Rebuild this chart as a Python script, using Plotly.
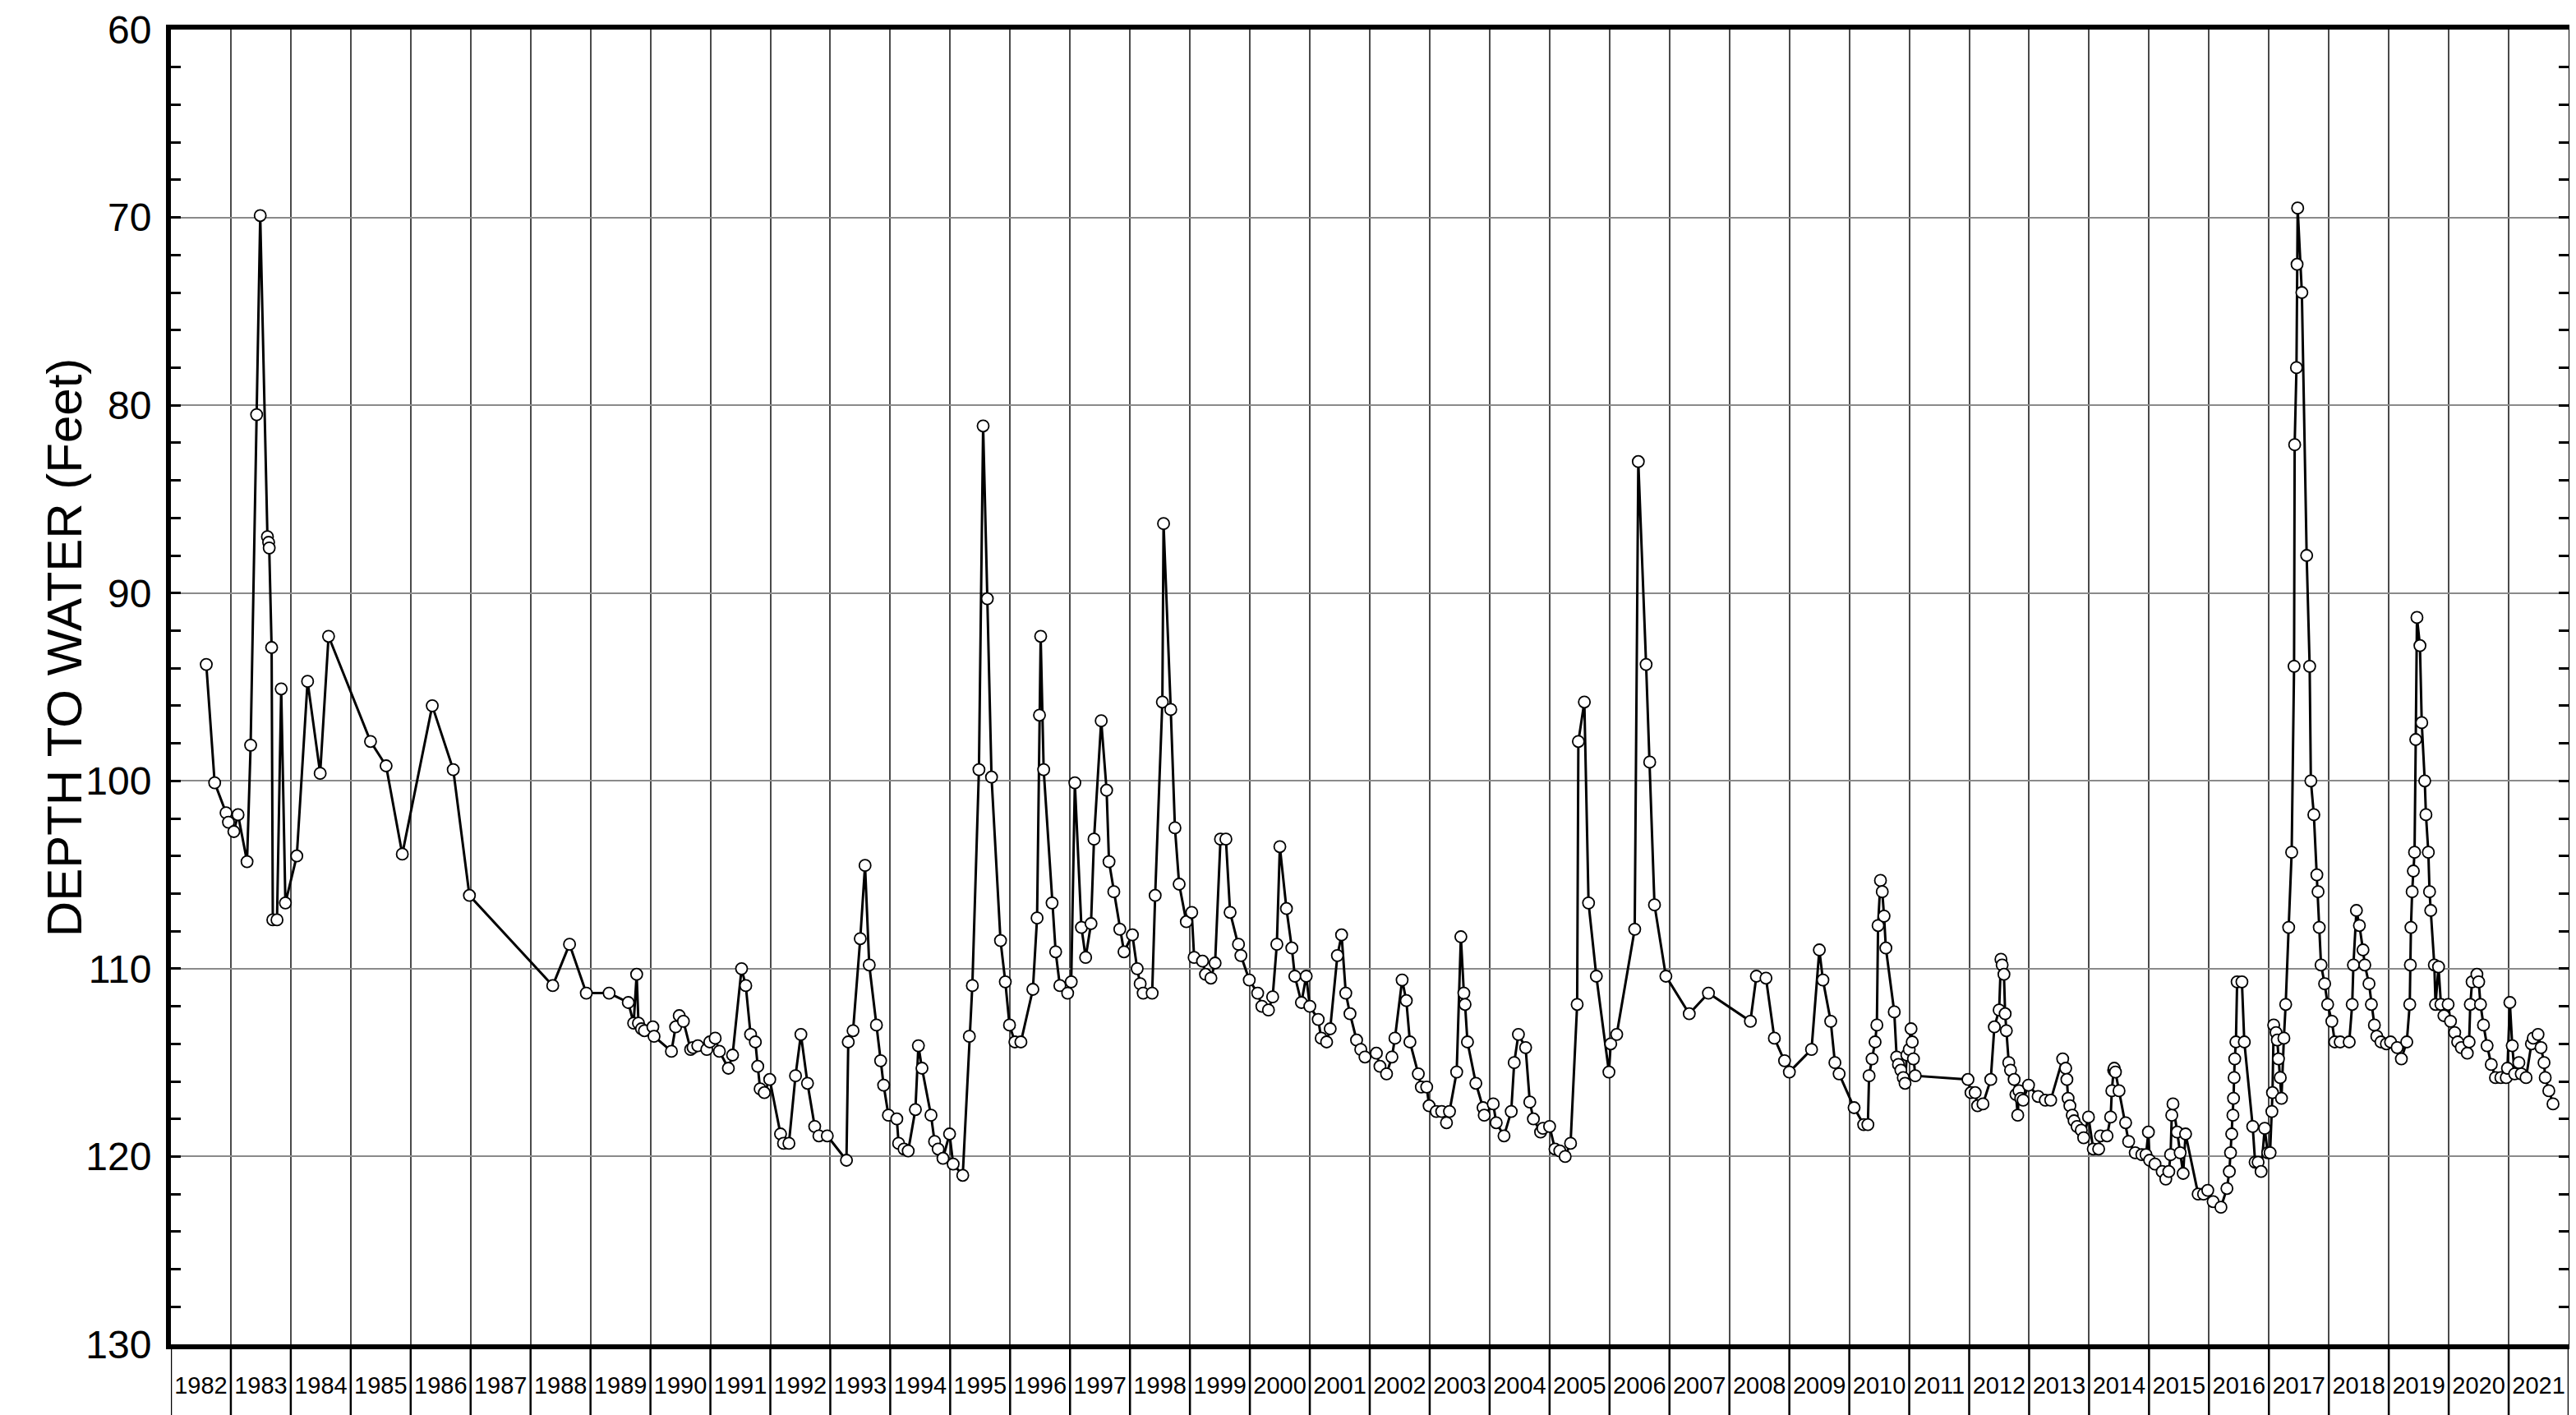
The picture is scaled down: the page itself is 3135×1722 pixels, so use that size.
import plotly.graph_objects as go

# ---------------- data (decimal year, depth to water in feet) ----------------
T_1982_88 = [1982.59, 1982.73, 1982.92, 1982.96, 1983.05, 1983.12, 1983.27, 1983.33, 1983.43, 1983.49,
             1983.61, 1983.63, 1983.64, 1983.68, 1983.70, 1983.77, 1983.84, 1983.91, 1984.10, 1984.28,
             1984.49, 1984.63, 1985.33, 1985.59, 1985.86, 1986.36, 1986.71, 1986.98, 1988.37, 1988.65,
             1988.93]
D_1982_88 = [93.8, 100.1, 101.7, 102.2, 102.7, 101.8, 104.3, 98.1, 80.5, 69.9,
             87.0, 87.3, 87.6, 92.9, 107.4, 107.4, 95.1, 106.5, 104.0, 94.7,
             99.6, 92.3, 97.9, 99.2, 103.9, 96.0, 99.4, 106.1, 110.9, 108.7,
             111.3]

T_1989_95 = [1989.31, 1989.63, 1989.72, 1989.77, 1989.80, 1989.85, 1989.90, 1990.04, 1990.06, 1990.35,
             1990.42, 1990.48, 1990.55, 1990.67, 1990.71, 1990.79, 1990.94, 1990.99, 1991.08, 1991.15,
             1991.30, 1991.37, 1991.52, 1991.59, 1991.67, 1991.75, 1991.79, 1991.83, 1991.90, 1991.99,
             1992.17, 1992.22, 1992.31, 1992.42, 1992.51, 1992.62, 1992.74, 1992.81, 1992.95, 1993.27,
             1993.30, 1993.38, 1993.50, 1993.58, 1993.65, 1993.77, 1993.84, 1993.89, 1993.97, 1994.11,
             1994.14, 1994.23, 1994.30, 1994.42, 1994.47, 1994.53, 1994.68, 1994.74, 1994.80, 1994.88,
             1994.99, 1995.05, 1995.21]
D_1989_95 = [111.3, 111.8, 112.9, 110.3, 112.9, 113.2, 113.3, 113.1, 113.6, 114.4,
             113.1, 112.5, 112.8, 114.3, 114.2, 114.1, 114.3, 113.9, 113.7, 114.4,
             115.3, 114.6, 110.0, 110.9, 113.5, 113.9, 115.2, 116.4, 116.6, 115.9,
             118.8, 119.3, 119.3, 115.7, 113.5, 116.1, 118.4, 118.9, 118.9, 120.2,
             113.9, 113.3, 108.4, 104.5, 109.8, 113.0, 114.9, 116.2, 117.8, 118.0,
             119.3, 119.6, 119.7, 117.5, 114.1, 115.3, 117.8, 119.2, 119.6, 120.1,
             118.8, 120.4, 121.0]

T_1995_02 = [1995.32, 1995.37, 1995.48, 1995.55, 1995.62, 1995.69, 1995.84, 1995.92, 1995.99, 1996.08,
             1996.18, 1996.38, 1996.45, 1996.49, 1996.51, 1996.56, 1996.70, 1996.76, 1996.83, 1996.96,
             1997.02, 1997.08, 1997.19, 1997.26, 1997.35, 1997.40, 1997.52, 1997.61, 1997.65, 1997.73,
             1997.83, 1997.90, 1998.04, 1998.12, 1998.17, 1998.22, 1998.37, 1998.42, 1998.54, 1998.56,
             1998.68, 1998.75, 1998.82, 1998.94, 1999.03, 1999.07, 1999.21, 1999.26, 1999.35, 1999.42,
             1999.51, 1999.60, 1999.67, 1999.81, 1999.85, 1999.99, 2000.13, 2000.20, 2000.31, 2000.38,
             2000.45, 2000.50, 2000.61, 2000.70, 2000.75, 2000.86, 2000.94, 2001.00, 2001.14, 2001.19,
             2001.28, 2001.34, 2001.46, 2001.53, 2001.60, 2001.67, 2001.78, 2001.85, 2001.92, 2002.11,
             2002.17, 2002.28]
D_1995_02 = [113.6, 110.9, 99.4, 81.1, 90.3, 99.8, 108.5, 110.7, 113.0, 113.9,
             113.9, 111.1, 107.3, 96.5, 92.3, 99.4, 106.5, 109.1, 110.9, 111.3,
             110.7, 100.1, 107.8, 109.4, 107.6, 103.1, 96.8, 100.5, 104.3, 105.9,
             107.9, 109.1, 108.2, 110.0, 110.8, 111.3, 111.3, 106.1, 95.8, 86.3,
             96.2, 102.5, 105.5, 107.5, 107.0, 109.4, 109.6, 110.3, 110.5, 109.7,
             103.1, 103.1, 107.0, 108.7, 109.3, 110.6, 111.3, 112.0, 112.2, 111.5,
             108.7, 103.5, 106.8, 108.9, 110.4, 111.8, 110.4, 112.0, 112.7, 113.7,
             113.9, 113.2, 109.3, 108.2, 111.3, 112.4, 113.8, 114.3, 114.7, 114.5,
             115.2, 115.6]

T_2002_09 = [2002.37, 2002.42, 2002.54, 2002.61, 2002.67, 2002.81, 2002.86, 2002.95, 2002.99, 2003.11,
             2003.20, 2003.28, 2003.33, 2003.45, 2003.52, 2003.57, 2003.59, 2003.63, 2003.77, 2003.89,
             2003.91, 2004.06, 2004.11, 2004.24, 2004.36, 2004.41, 2004.48, 2004.60, 2004.67, 2004.73,
             2004.85, 2004.89, 2005.00, 2005.09, 2005.17, 2005.26, 2005.35, 2005.46, 2005.48, 2005.58,
             2005.65, 2005.78, 2005.99, 2006.02, 2006.12, 2006.42, 2006.48, 2006.61, 2006.67, 2006.75,
             2006.94, 2007.33, 2007.65, 2008.35, 2008.45, 2008.61, 2008.75, 2008.92, 2009.00]
D_2002_09 = [114.7, 113.7, 110.6, 111.7, 113.9, 115.6, 116.3, 116.3, 117.3, 117.6,
             117.6, 118.2, 117.6, 115.5, 108.3, 111.3, 111.9, 113.9, 116.1, 117.4,
             117.8, 117.2, 118.2, 118.9, 117.6, 115.0, 113.5, 114.2, 117.1, 118.0,
             118.7, 118.5, 118.4, 119.6, 119.7, 120.0, 119.3, 111.9, 97.9, 95.8,
             106.5, 110.4, 115.5, 114.0, 113.5, 107.9, 83.0, 93.8, 99.0, 106.6,
             110.4, 112.4, 111.3, 112.8, 110.4, 110.5, 113.7, 114.9, 115.5]

T_2009_15 = [2009.37, 2009.50, 2009.56, 2009.69, 2009.76, 2009.83, 2010.08, 2010.24, 2010.31, 2010.33,
             2010.38, 2010.43, 2010.46, 2010.48, 2010.52, 2010.55, 2010.58, 2010.61, 2010.75, 2010.79,
             2010.82, 2010.86, 2010.90, 2010.93, 2010.96, 2011.00, 2011.03, 2011.05, 2011.07, 2011.10,
             2011.98, 2012.03, 2012.10, 2012.14, 2012.23, 2012.36, 2012.42, 2012.50, 2012.53, 2012.55,
             2012.58, 2012.60, 2012.62, 2012.66, 2012.69, 2012.75, 2012.78, 2012.81, 2012.83, 2012.86,
             2012.90, 2012.99, 2013.15, 2013.27, 2013.36, 2013.56, 2013.61, 2013.63, 2013.65, 2013.68,
             2013.72, 2013.75, 2013.80, 2013.87, 2013.91, 2013.99, 2014.07, 2014.16, 2014.19, 2014.30,
             2014.36, 2014.38, 2014.41, 2014.42, 2014.44, 2014.50, 2014.61, 2014.66, 2014.77, 2014.88,
             2014.95, 2014.99, 2015.01, 2015.10, 2015.22, 2015.28, 2015.33, 2015.36, 2015.38, 2015.40,
             2015.47, 2015.52, 2015.57, 2015.61, 2015.82, 2015.91, 2015.98]
D_2009_15 = [114.3, 109.0, 110.6, 112.8, 115.0, 115.6, 117.4, 118.3, 118.3, 115.7,
             114.8, 113.9, 113.0, 107.7, 105.3, 105.9, 107.2, 108.9, 112.3, 114.7,
             115.1, 115.4, 115.8, 116.1, 114.6, 114.3, 113.2, 113.9, 114.8, 115.7,
             115.9, 116.6, 116.6, 117.3, 117.2, 115.9, 113.1, 112.2, 109.5, 109.8,
             110.3, 112.4, 113.3, 115.0, 115.4, 115.9, 116.7, 117.8, 116.5, 116.9,
             117.0, 116.2, 116.8, 117.0, 117.0, 114.8, 115.3, 115.9, 116.9, 117.3,
             117.8, 118.1, 118.4, 118.6, 119.0, 117.9, 119.6, 119.6, 118.9, 118.9,
             117.9, 116.5, 115.4, 115.3, 115.5, 116.5, 118.2, 119.2, 119.8, 119.9,
             119.9, 118.7, 120.2, 120.4, 120.8, 121.2, 120.8, 119.9, 117.8, 117.2,
             118.7, 119.8, 120.9, 118.8, 122.0, 122.0, 121.8]

T_2016_21 = [2016.07, 2016.20, 2016.30, 2016.34, 2016.36, 2016.38, 2016.40, 2016.41, 2016.42, 2016.43,
             2016.45, 2016.47, 2016.55, 2016.59, 2016.73, 2016.77, 2016.82, 2016.87, 2016.93, 2016.98,
             2017.02, 2017.05, 2017.06, 2017.08, 2017.12, 2017.14, 2017.16, 2017.19, 2017.21, 2017.25,
             2017.28, 2017.33, 2017.38, 2017.42, 2017.43, 2017.46, 2017.47, 2017.48, 2017.55, 2017.63,
             2017.68, 2017.70, 2017.75, 2017.80, 2017.82, 2017.84, 2017.87, 2017.93, 2017.98, 2018.05,
             2018.10, 2018.19, 2018.34, 2018.39, 2018.41, 2018.46, 2018.51, 2018.57, 2018.60, 2018.67,
             2018.71, 2018.76, 2018.80, 2018.87, 2018.96, 2019.03, 2019.14, 2019.21, 2019.30, 2019.35,
             2019.36, 2019.37, 2019.39, 2019.41, 2019.43, 2019.45, 2019.47, 2019.52, 2019.55, 2019.60,
             2019.62, 2019.66, 2019.68, 2019.70, 2019.76, 2019.78, 2019.83, 2019.87, 2019.92, 2019.99,
             2020.03, 2020.10, 2020.15, 2020.21, 2020.31, 2020.34, 2020.36, 2020.39, 2020.47, 2020.50,
             2020.53, 2020.58, 2020.64, 2020.71, 2020.78, 2020.87, 2020.96, 2020.98, 2021.02, 2021.06,
             2021.10, 2021.17, 2021.21, 2021.29, 2021.38, 2021.41, 2021.49, 2021.54, 2021.59, 2021.61,
             2021.67, 2021.74]
D_2016_21 = [122.4, 122.7, 121.7, 120.8, 119.8, 118.8, 117.8, 116.9, 115.8, 114.8,
             113.9, 110.7, 110.7, 113.9, 118.4, 120.3, 120.3, 120.8, 118.5, 119.8,
             119.8, 117.6, 116.6, 113.0, 113.4, 113.8, 114.8, 115.8, 116.9, 113.7,
             111.9, 107.8, 103.8, 93.9, 82.1, 78.0, 72.5, 69.5, 74.0, 88.0,
             93.9, 100.0, 101.8, 105.0, 105.9, 107.8, 109.8, 110.8, 111.9, 112.8,
             113.9, 113.9, 113.9, 111.9, 109.8, 106.9, 107.7, 109.0, 109.8, 110.8,
             111.9, 113.0, 113.6, 113.9, 114.0, 113.9, 114.2, 114.8, 113.9, 111.9,
             109.8, 107.8, 105.9, 104.8, 103.8, 97.8, 91.3, 92.8, 96.9, 100.0,
             101.8, 103.8, 105.9, 106.9, 109.8, 111.9, 109.9, 111.9, 112.5, 111.9,
             112.8, 113.4, 113.9, 114.2, 114.5, 113.9, 111.9, 110.7, 110.3, 110.7,
             111.9, 113.0, 114.1, 115.1, 115.8, 115.8, 115.8, 115.3, 111.8, 114.1,
             115.6, 115.0, 115.6, 115.8, 114.0, 113.7, 113.5, 114.2, 115.0, 115.8,
             116.5, 117.2]

YEARS = list(range(1982, 2022))          # year labels in the bottom row
Y_TICKS = [60, 70, 80, 90, 100, 110, 120, 130]
Y_TITLE = "DEPTH TO WATER (Feet)"

dates = T_1982_88 + T_1989_95 + T_1995_02 + T_2002_09 + T_2009_15 + T_2016_21
depth = D_1982_88 + D_1989_95 + D_1995_02 + D_2002_09 + D_2009_15 + D_2016_21

FONT = "Liberation Sans, Arial, Helvetica, sans-serif"

fig = go.Figure()
fig.add_trace(go.Scatter(
    x=dates, y=depth, mode="lines+markers",
    line=dict(color="black", width=3),
    marker=dict(symbol="circle", size=14, color="white",
                line=dict(color="black", width=1.8)),
    showlegend=False, hoverinfo="x+y",
))

x0, x1 = YEARS[0], YEARS[-1] + 1
row_h = 0.055  # label row height (paper units)

# year-label row: dividers and bottom border
shapes = []
for yr in YEARS + [x1]:
    shapes.append(dict(type="line", xref="x", yref="paper", x0=yr, x1=yr,
                       y0=-row_h, y1=0, line=dict(color="black", width=2.5)))
shapes.append(dict(type="line", xref="x", yref="paper", x0=x0, x1=x1,
                   y0=-row_h, y1=-row_h, line=dict(color="black", width=2.5)))

fig.update_layout(
    width=3135, height=1722,
    margin=dict(l=200, r=17, t=28, b=94, autoexpand=False),
    paper_bgcolor="white", plot_bgcolor="white",
    shapes=shapes,
    annotations=[dict(
        text=Y_TITLE, textangle=-90, xref="paper", yref="paper",
        x=-0.0445, y=0.53, xanchor="center", yanchor="middle", showarrow=False,
        font=dict(family=FONT, size=60, color="black"),
    )],
    xaxis=dict(
        range=[x0, x1],
        tickmode="array",
        tickvals=[yr + 0.5 for yr in YEARS],
        ticktext=[str(yr) for yr in YEARS],
        tickangle=0,
        ticks="", showgrid=False, zeroline=False,
        tickfont=dict(family=FONT, size=29, color="black"),
        ticklabelstandoff=19,
        minor=dict(tickmode="linear", tick0=x0, dtick=1, showgrid=True,
                   gridcolor="#4a4a4a", gridwidth=2.2, ticks=""),
        showline=True, linecolor="black", linewidth=6, mirror=True,
    ),
    yaxis=dict(
        range=[130, 60],
        tickmode="array", tickvals=Y_TICKS,
        ticks="inside", ticklen=12, tickwidth=2.5, tickcolor="black",
        showgrid=True, gridcolor="#8a8a8a", gridwidth=2.2,
        zeroline=False,
        tickfont=dict(family=FONT, size=48, color="black"),
        ticklabelstandoff=8,
        minor=dict(tickmode="linear", tick0=60, dtick=2, ticks="inside",
                   ticklen=12, tickwidth=2.5, tickcolor="black", showgrid=False),
        showline=True, linecolor="black", linewidth=6, mirror="allticks",
    ),
)

fig.write_html("out.html")
